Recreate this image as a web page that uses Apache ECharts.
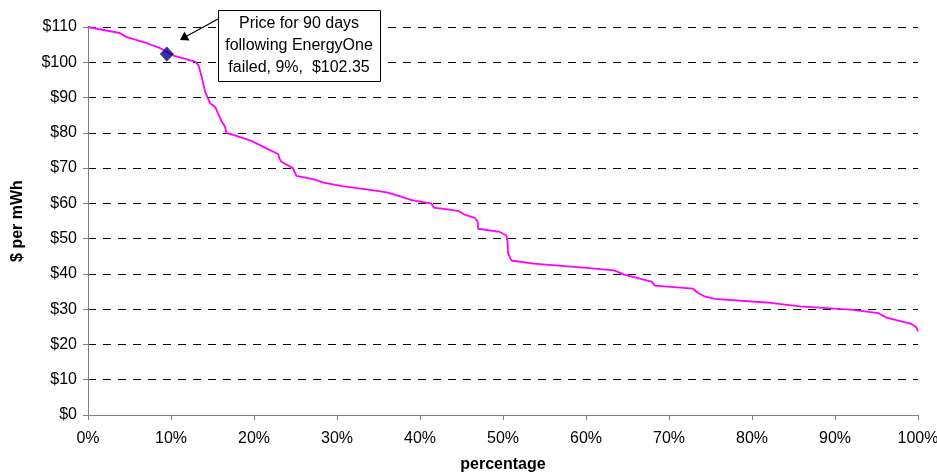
<!DOCTYPE html>
<html>
<head>
<meta charset="utf-8">
<script src="https://cdn.jsdelivr.net/npm/echarts@6/dist/echarts.min.js"></script>
<style>
html,body{margin:0;padding:0;background:#fff;}
#chart{width:937px;height:476px;}
</style>
</head>
<body>
<div id="chart"></div>
<script>
// percentage of time (x) and price in $ per mWh (y)
var pct = [0, 3.8, 4.6, 7.1, 8.7, 10.3, 12.9, 13.3, 13.7, 14.1, 14.7, 15.3, 16.1, 16.5, 16.7, 17.5, 19.7, 21.5, 22.9, 23.1, 23.3, 24.7, 25.1, 27.1, 28.4, 30.6, 34.0, 36.0, 37.7, 39.0, 41.4, 41.65, 44.6, 45.3, 46.6, 46.95, 47.0, 49.6, 50.4, 50.55, 50.6, 51.0, 53.7, 59.7, 63.4, 64.6, 67.9, 68.3, 72.9, 73.5, 74.3, 75.5, 81.7, 85.8, 92.2, 95.2, 96.2, 99.2, 99.8, 100];
var price = [110, 108.3, 107.2, 105.4, 104.0, 101.9, 100.2, 99.2, 95.9, 91.7, 88.4, 87.4, 83.2, 81.8, 79.9, 79.4, 77.7, 75.6, 74.0, 72.5, 71.8, 70.0, 67.8, 66.9, 65.9, 64.9, 63.8, 63.1, 61.9, 60.9, 59.9, 58.8, 57.9, 56.9, 55.9, 54.8, 52.8, 51.9, 50.9, 49.2, 45.9, 43.8, 42.9, 41.8, 41.0, 39.8, 37.8, 36.7, 35.8, 34.6, 33.6, 32.9, 31.9, 30.8, 29.8, 28.9, 27.6, 25.8, 24.9, 23.7];
var highlightPct = [9.5];
var highlightPrice = [102.35];
var annotationLines = ['Price for 90 days', 'following EnergyOne', 'failed, 9%,  $102.35'];
var xTicks = {min: 0, max: 100, interval: 10};
var yTicks = {min: 0, max: 110, interval: 10};

var lineData = pct.map(function (p, i) { return [p, price[i]]; });
var pointData = highlightPct.map(function (p, i) { return [p, highlightPrice[i]]; });

var FONT = '"Liberation Sans", Arial, sans-serif';
var chart = echarts.init(document.getElementById('chart'), null, {renderer: 'canvas'});
chart.setOption({
  animation: false,
  backgroundColor: '#ffffff',
  grid: {left: 88, right: 19, top: 27, bottom: 61, containLabel: false, outerBoundsMode: 'none'},
  xAxis: {
    type: 'value', min: xTicks.min, max: xTicks.max, interval: xTicks.interval,
    name: 'percentage', nameLocation: 'middle', nameGap: 42,
    nameTextStyle: {fontFamily: FONT, fontSize: 16, fontWeight: 'bold', color: '#000'},
    axisLine: {show: true, lineStyle: {color: '#808080', width: 1}},
    axisTick: {show: true, length: 5, lineStyle: {color: '#808080'}},
    axisLabel: {formatter: '{value}%', fontFamily: FONT, fontSize: 16, color: '#000', margin: 16},
    splitLine: {show: false}
  },
  yAxis: {
    type: 'value', min: yTicks.min, max: yTicks.max, interval: yTicks.interval,
    name: '$ per mWh', nameLocation: 'middle', nameGap: 62, nameRotate: 90,
    nameTextStyle: {fontFamily: FONT, fontSize: 16, fontWeight: 'bold', color: '#000'},
    axisLine: {show: true, lineStyle: {color: '#808080', width: 1}},
    axisTick: {show: true, length: 5, lineStyle: {color: '#808080'}},
    axisLabel: {formatter: '${value}', fontFamily: FONT, fontSize: 16, color: '#000', margin: 11},
    splitLine: {show: true, lineStyle: {color: '#000', width: 1, type: [8, 7]}}
  },
  series: [
    {
      type: 'line', data: lineData, showSymbol: false, symbol: 'none',
      lineStyle: {color: '#ff00ff', width: 1.8}, z: 3
    },
    {
      type: 'scatter', data: pointData, symbol: 'diamond', symbolSize: [14, 15],
      itemStyle: {color: '#000080'}, z: 4
    }
  ],
  graphic: [
    {
      type: 'rect', shape: {x: 218.5, y: 10.5, width: 162, height: 71},
      style: {fill: '#fff', stroke: '#000', lineWidth: 1}, z: 10
    },
    {
      type: 'text', x: 299, y: 46, z: 11,
      style: {text: annotationLines.join('\n'), font: '16px ' + FONT, fill: '#000',
        textAlign: 'center', textVerticalAlign: 'middle', lineHeight: 22}
    },
    {
      type: 'line', shape: {x1: 218, y1: 19, x2: 186, y2: 36.5},
      style: {stroke: '#000', lineWidth: 1.2}, z: 10
    },
    {
      type: 'polygon', shape: {points: [[180, 40], [184.5, 31.5], [189.5, 40.5]]},
      style: {fill: '#000'}, z: 10
    }
  ]
});
</script>
</body>
</html>
